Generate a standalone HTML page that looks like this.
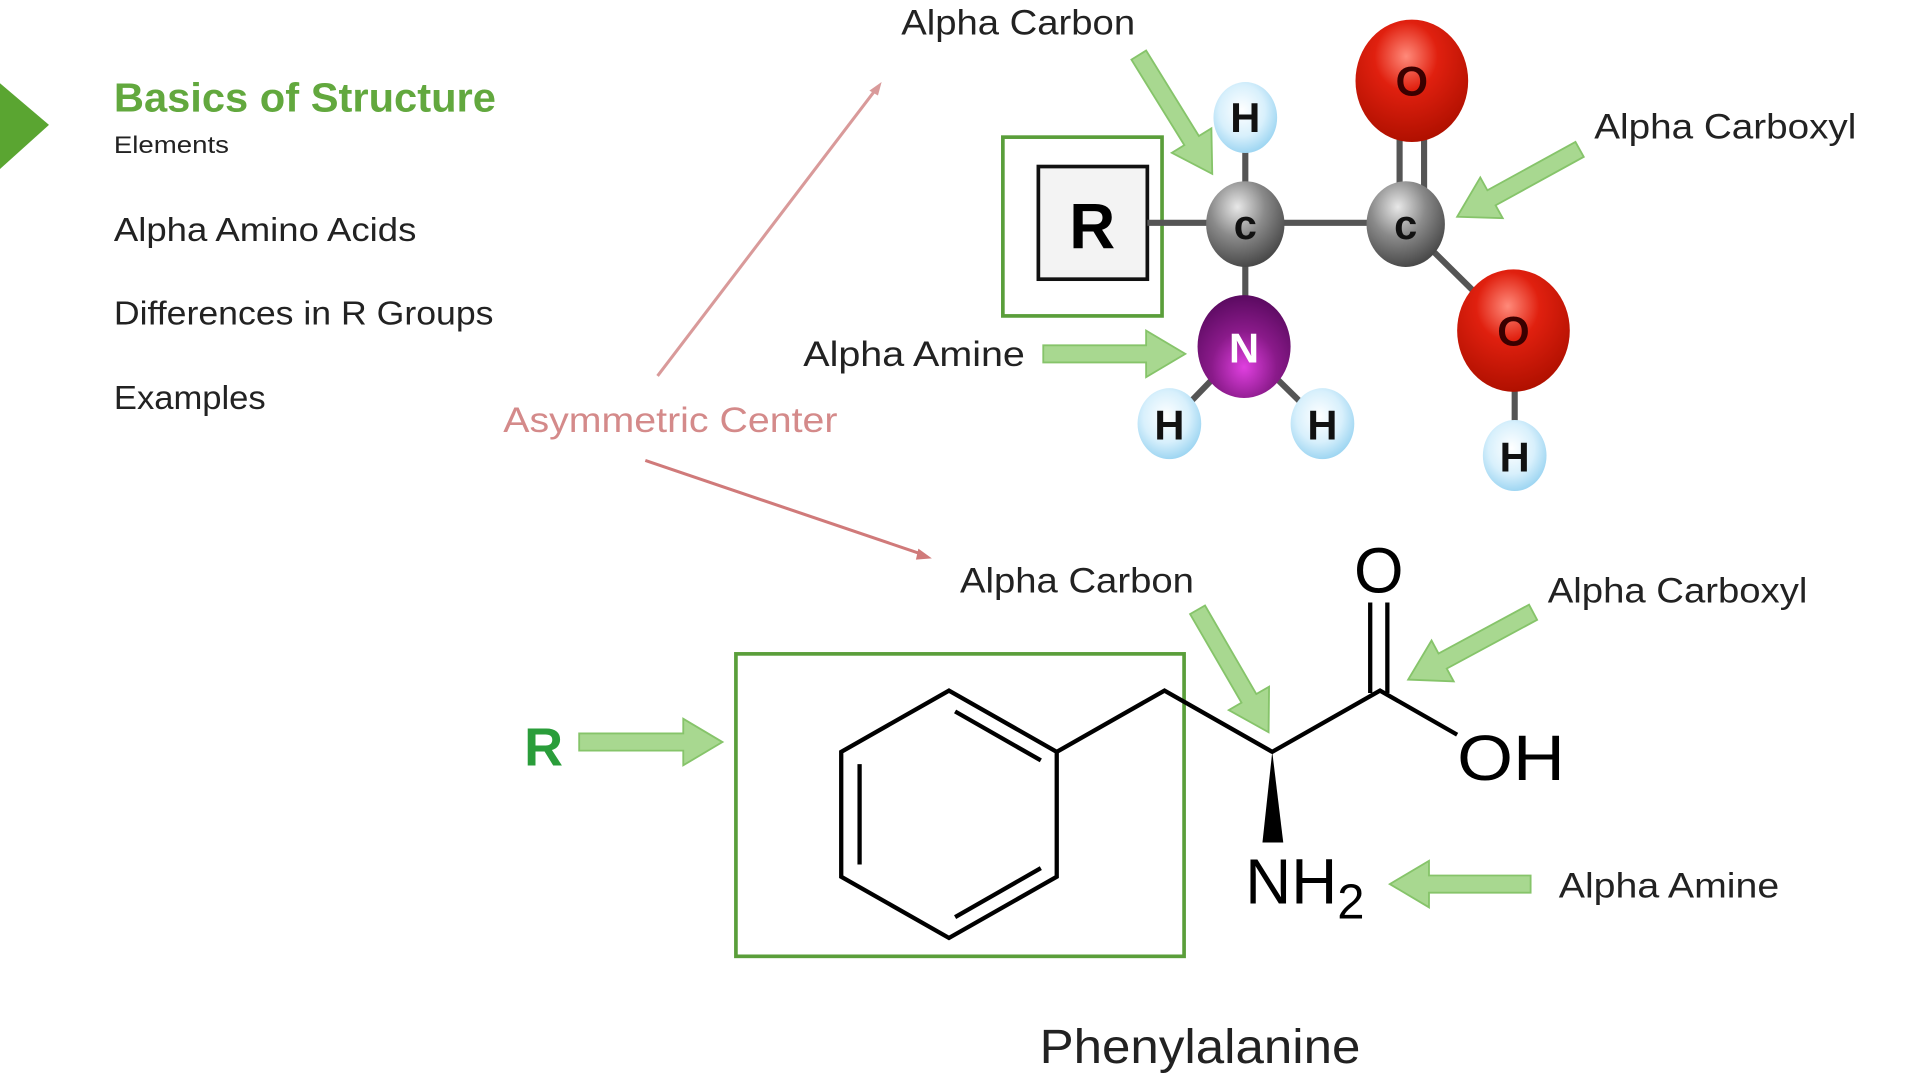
<!DOCTYPE html>
<html><head><meta charset="utf-8"><style>
html,body{margin:0;padding:0;background:#fff;width:1920px;height:1080px;overflow:hidden}
svg{display:block}
text{font-family:"Liberation Sans",sans-serif}
</style></head><body>
<svg id="s" width="1920" height="1080" viewBox="0 0 1568 882" xmlns="http://www.w3.org/2000/svg">
<defs>
<radialGradient id="gray" cx="40%" cy="30%" r="70%"><stop offset="0" stop-color="#e8e8e8"/><stop offset="0.5" stop-color="#8a8a8a"/><stop offset="1" stop-color="#4a4a4a"/></radialGradient>
<radialGradient id="red" cx="45%" cy="30%" r="70%"><stop offset="0" stop-color="#ff8a7a"/><stop offset="0.4" stop-color="#e0200f"/><stop offset="1" stop-color="#b01000"/></radialGradient>
<radialGradient id="blue" cx="45%" cy="40%" r="60%"><stop offset="0" stop-color="#ffffff"/><stop offset="0.6" stop-color="#d8f0fc"/><stop offset="1" stop-color="#9fd6f2"/></radialGradient>
<radialGradient id="purp" cx="50%" cy="70%" r="70%"><stop offset="0" stop-color="#e040e0"/><stop offset="0.5" stop-color="#8a1a8a"/><stop offset="1" stop-color="#5a0a60"/></radialGradient>
</defs>
<polygon points="0,68 40,102 0,138" fill="#5aa531"/>
<text x="93" y="91" font-size="33" font-weight="bold" fill="#62a83e" textLength="312" lengthAdjust="spacingAndGlyphs">Basics of Structure</text>
<text x="93" y="125" font-size="20" fill="#222" textLength="94" lengthAdjust="spacingAndGlyphs">Elements</text>
<text x="93" y="197" font-size="27" fill="#222" textLength="247" lengthAdjust="spacingAndGlyphs">Alpha Amino Acids</text>
<text x="93" y="265" font-size="27" fill="#222" textLength="310" lengthAdjust="spacingAndGlyphs">Differences in R Groups</text>
<text x="93" y="334" font-size="27" fill="#222" textLength="124" lengthAdjust="spacingAndGlyphs">Examples</text>
<text x="411" y="353" font-size="29" fill="#d48a8a" textLength="273" lengthAdjust="spacingAndGlyphs">Asymmetric Center</text>
<line x1="537" y1="307" x2="716" y2="72" stroke="#d99a9a" stroke-width="2.5"/>
<polygon points="720,67 710,74 717,78" fill="#d99a9a"/>
<line x1="527" y1="376" x2="754" y2="453" stroke="#d07a7a" stroke-width="2.5"/>
<polygon points="761,456 750,448 748,457" fill="#d07a7a"/>
<!-- top molecule -->
<rect x="819" y="112" width="130" height="146" fill="none" stroke="#5a9e3a" stroke-width="3"/>
<rect x="848" y="136" width="89" height="92" fill="#f3f3f3" stroke="#111" stroke-width="3"/>
<text x="892" y="203" font-size="52" font-weight="bold" text-anchor="middle" fill="#000">R</text>
<g stroke="#555" stroke-width="5">
<line x1="937" y1="182" x2="1148" y2="182"/>
<line x1="1017" y1="96" x2="1017" y2="283"/>
<line x1="1016" y1="283" x2="955" y2="346"/><line x1="1016" y1="283" x2="1080" y2="346"/>
<line x1="1148" y1="183" x2="1236" y2="270"/><line x1="1237" y1="270" x2="1237" y2="372"/>
<line x1="1143" y1="70" x2="1143" y2="180"/><line x1="1163" y1="70" x2="1163" y2="180"/>
</g>
<ellipse cx="1017" cy="96" rx="26" ry="29" fill="url(#blue)"/>
<ellipse cx="955" cy="346" rx="26" ry="29" fill="url(#blue)"/>
<ellipse cx="1080" cy="346" rx="26" ry="29" fill="url(#blue)"/>
<ellipse cx="1237" cy="372" rx="26" ry="29" fill="url(#blue)"/>
<ellipse cx="1017" cy="183" rx="32" ry="35" fill="url(#gray)"/>
<ellipse cx="1148" cy="183" rx="32" ry="35" fill="url(#gray)"/>
<ellipse cx="1153" cy="66" rx="46" ry="50" fill="url(#red)"/>
<ellipse cx="1236" cy="270" rx="46" ry="50" fill="url(#red)"/>
<ellipse cx="1016" cy="283" rx="38" ry="42" fill="url(#purp)"/>
<g font-size="34" font-weight="bold" text-anchor="middle" fill="#111">
<text x="1017" y="108">H</text><text x="955" y="359">H</text><text x="1080" y="359">H</text><text x="1237" y="385">H</text>
<text x="1017" y="195">c</text><text x="1148" y="195">c</text>
<text x="1153" y="78" fill="#3a0000">O</text><text x="1236" y="282" fill="#3a0000">O</text>
<text x="1016" y="296" fill="#fff">N</text>
</g>
<text x="736" y="28" font-size="29" fill="#222" textLength="191" lengthAdjust="spacingAndGlyphs">Alpha Carbon</text>
<text x="1302" y="113" font-size="29" fill="#222" textLength="214" lengthAdjust="spacingAndGlyphs">Alpha Carboxyl</text>
<text x="656" y="299" font-size="29" fill="#222" textLength="181" lengthAdjust="spacingAndGlyphs">Alpha Amine</text>
<!-- bottom -->
<text x="784" y="484" font-size="29" fill="#222" textLength="191" lengthAdjust="spacingAndGlyphs">Alpha Carbon</text>
<text x="1264" y="492" font-size="29" fill="#222" textLength="212" lengthAdjust="spacingAndGlyphs">Alpha Carboxyl</text>
<text x="1273" y="733" font-size="29" fill="#222" textLength="180" lengthAdjust="spacingAndGlyphs">Alpha Amine</text>
<text x="849" y="868" font-size="39" fill="#222" textLength="262" lengthAdjust="spacingAndGlyphs">Phenylalanine</text>
<text x="428" y="625" font-size="44" font-weight="bold" fill="#2a9d3a">R</text>
<rect x="601" y="534" width="366" height="247" fill="none" stroke="#5a9e3a" stroke-width="3"/>
<g stroke="#000" stroke-width="3.5" fill="none" stroke-linejoin="miter">
<polygon points="775,564 863,614 863,716 775,766 687,716 687,614"/>
<line x1="780" y1="581" x2="850" y2="621"/><line x1="702" y1="624" x2="702" y2="706"/><line x1="780" y1="749" x2="850" y2="709"/>
<polyline points="863,614 951,564 1039,614 1127,564 1190,600"/>
<line x1="1119" y1="566" x2="1119" y2="492"/><line x1="1133" y1="566" x2="1133" y2="492"/>
</g>
<polygon points="1039,614 1031,688 1048,688" fill="#000"/>
<text x="1126" y="484" font-size="52" text-anchor="middle" fill="#000">O</text>
<text x="1190" y="637" font-size="52" fill="#000" textLength="88" lengthAdjust="spacingAndGlyphs">OH</text>
<text x="1017" y="738" font-size="52" fill="#000">NH<tspan font-size="40" dy="12">2</tspan></text>
<g id="arrows" fill="#a8d890" stroke="#86c46a" stroke-width="1.5"></g>
</svg>
<script>
var A=[[930,45,990,142],[1290,122,1190,177],[852,289,968,289],[978,498,1036,598],[1252,500,1150,555],[1250,722,1135,722],[473,606,590,606]];
var g=document.getElementById('arrows'),h='';
A.forEach(function(a){var dx=a[2]-a[0],dy=a[3]-a[1],L=Math.hypot(dx,dy),ux=dx/L,uy=dy/L,nx=-uy,ny=ux,w=7,hw=19,hl=32;
var bx=a[2]-ux*hl,by=a[3]-uy*hl;
var p=[[a[0]+nx*w,a[1]+ny*w],[bx+nx*w,by+ny*w],[bx+nx*hw,by+ny*hw],[a[2],a[3]],[bx-nx*hw,by-ny*hw],[bx-nx*w,by-ny*w],[a[0]-nx*w,a[1]-ny*w]];
h+='<polygon points="'+p.map(function(q){return q[0].toFixed(1)+','+q[1].toFixed(1)}).join(' ')+'"/>';});
g.innerHTML=h;
</script>
</body></html>
